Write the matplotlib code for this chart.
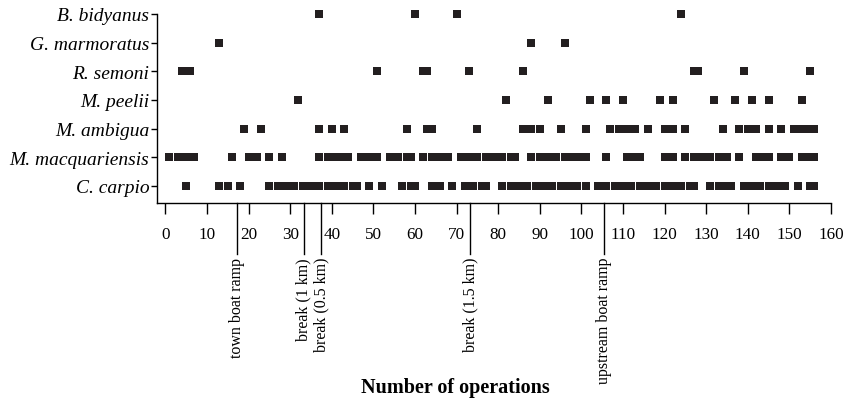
import matplotlib.pyplot as plt
from matplotlib.transforms import blended_transform_factory

plt.rcParams['font.family'] = ['Liberation Serif', 'DejaVu Serif']

# species, bottom row first
species = ["C. carpio", "M. macquariensis", "M. ambigua", "M. peelii",
           "R. semoni", "G. marmoratus", "B. bidyanus"]

# operation numbers in which each species was caught
c_carpio = [5, 13, 15, 18, 25, 27, 29, 31, 33, 35, 37, 39, 41, 43, 45, 46,
            49, 52, 57, 59, 60, 64, 66, 69, 72, 74, 76, 77,
            81, 83, 85, 87, 89, 91, 93, 95, 97, 99, 101,
            104, 106, 108, 110, 112, 114, 116, 118, 120, 122, 124, 126, 127,
            131, 133, 135, 136, 139, 141, 143, 145, 147, 149, 152, 155, 156]
m_macquariensis = [1, 3, 5, 7, 16, 20, 22, 25, 28, 37, 39, 41, 43, 44,
                   47, 49, 51, 54, 56, 58, 59, 62, 64, 66, 68,
                   71, 73, 75, 77, 79, 81, 83, 84,
                   88, 90, 92, 94, 96, 98, 100, 101, 106, 111, 113, 114,
                   120, 122, 125, 127, 129, 131, 133, 135, 138,
                   142, 144, 145, 148, 150, 153, 155, 156]
m_ambigua = [19, 23, 37, 40, 43, 58, 63, 64, 75, 86, 88, 90, 95, 101,
             107, 109, 111, 113, 116, 120, 122, 125, 134, 138, 140, 142,
             145, 148, 151, 153, 155, 156]
m_peelii = [32, 82, 92, 102, 106, 110, 119, 122, 132, 137, 141, 145, 153]
r_semoni = [4, 6, 51, 62, 63, 73, 86, 127, 128, 139, 155]
g_marmoratus = [13, 88, 96]
b_bidyanus = [37, 60, 70, 124]

rows = [c_carpio, m_macquariensis, m_ambigua, m_peelii,
        r_semoni, g_marmoratus, b_bidyanus]

# landmarks along the river, in operation numbers
events = ["town boat ramp", "break (1 km)", "break (0.5 km)",
          "break (1.5 km)", "upstream boat ramp"]
event_ops = [17.3, 33.3, 37.5, 73.3, 105.5]

xticks = list(range(0, 161, 10))

fig = plt.figure(figsize=(8.45, 4.02), dpi=100)
ax = fig.add_axes([0.1858, 0.4925, 0.7976, 0.4702])

for i, ops in enumerate(rows):
    ax.scatter(ops, [i] * len(ops), marker='s', s=30, color='#231f20',
               linewidths=0, clip_on=False, zorder=3)

ax.set_xlim(-2, 160)
ax.set_ylim(-0.6, 6)
ax.set_xticks(xticks)
ax.set_yticks(range(len(species)))
ax.set_yticklabels(species, fontstyle='italic', fontsize=14)
ax.tick_params(axis='x', direction='out', length=7.7, width=1,
               labelsize=12.3, pad=9)
ax.tick_params(axis='y', direction='out', length=4.5, width=1, pad=1)

for side in ['top', 'right']:
    ax.spines[side].set_visible(False)
for side in ['left', 'bottom']:
    ax.spines[side].set_linewidth(1)

trans = blended_transform_factory(ax.transData, ax.transAxes)
for name, x in zip(events, event_ops):
    ax.plot([x, x], [0, -0.27], color='black', lw=1,
            transform=trans, clip_on=False)
    ax.text(x, -0.285, name, rotation=90, ha='center', va='top',
            fontsize=11.5, transform=trans)

fig.text(455 / 845, 1 - 388 / 402, "Number of operations", ha='center',
         va='center', fontsize=14.5, fontweight='bold')

fig.savefig("out.png", dpi=100)
